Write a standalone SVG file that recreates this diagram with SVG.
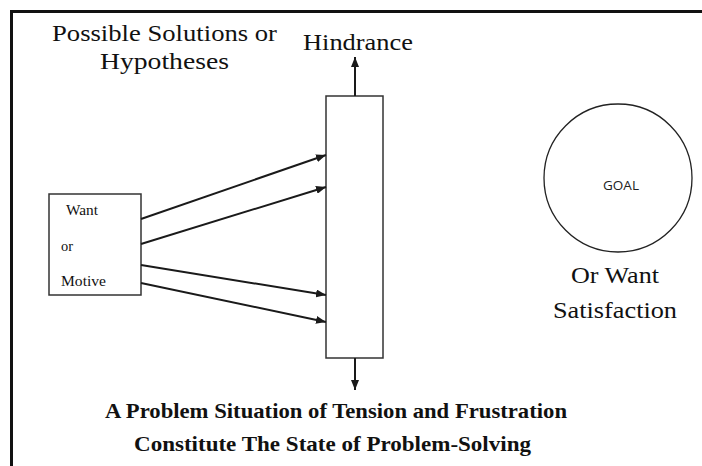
<svg xmlns="http://www.w3.org/2000/svg" width="702" height="466" viewBox="0 0 702 466">
<defs>
<marker id="ah" markerWidth="10" markerHeight="8" refX="10" refY="4" orient="auto" markerUnits="userSpaceOnUse">
<path d="M0,0 L10,4 L0,8 Z" fill="#1a1a1a"/>
</marker>
<style>
.ln{stroke:#1a1a1a;stroke-width:2;fill:none}
.box{stroke:#333;stroke-width:1.5;fill:#fff}
.sf{font-family:'Liberation Serif','Times New Roman','DejaVu Serif',serif;fill:#111}
</style>
</defs>
<rect width="702" height="466" fill="#fff"/>
<g id="frame">
<line x1="10" y1="11.5" x2="702" y2="11.5" stroke="#111" stroke-width="3"/>
<line x1="11.5" y1="10" x2="11.5" y2="466" stroke="#111" stroke-width="3"/>
</g>
<g class="sf">
<g id="title-solutions">
<text x="164.5" y="41" font-size="23" text-anchor="middle" textLength="225" lengthAdjust="spacingAndGlyphs">Possible Solutions or</text>
<text x="164.5" y="69" font-size="23" text-anchor="middle" textLength="129" lengthAdjust="spacingAndGlyphs">Hypotheses</text>
</g>
<g id="hindrance-label">
<text x="358" y="50" font-size="23" text-anchor="middle" textLength="110" lengthAdjust="spacingAndGlyphs">Hindrance</text>
</g>
<g id="goal-label">
<text x="615" y="283" font-size="23" text-anchor="middle" textLength="88" lengthAdjust="spacingAndGlyphs">Or Want</text>
<text x="615" y="318" font-size="23" text-anchor="middle" textLength="124" lengthAdjust="spacingAndGlyphs">Satisfaction</text>
</g>
<g id="caption">
<text x="336" y="418" font-size="22" font-weight="bold" text-anchor="middle" textLength="462" lengthAdjust="spacingAndGlyphs">A Problem Situation of Tension and Frustration</text>
<text x="332.5" y="451" font-size="22" font-weight="bold" text-anchor="middle" textLength="397" lengthAdjust="spacingAndGlyphs">Constitute The State of Problem-Solving</text>
</g>
</g>
<g id="hindrance">
<rect class="box" x="326" y="96" width="57" height="262"/>
</g>
<g id="want">
<rect class="box" x="49" y="194" width="92" height="101"/>
<g class="sf" font-size="14">
<text x="66" y="215" textLength="32" lengthAdjust="spacingAndGlyphs">Want</text>
<text x="61" y="251" textLength="12" lengthAdjust="spacingAndGlyphs">or</text>
<text x="61" y="286" textLength="45" lengthAdjust="spacingAndGlyphs">Motive</text>
</g>
</g>
<g id="goal">
<circle cx="618" cy="178" r="74" fill="none" stroke="#222" stroke-width="1.3"/>
<text x="621" y="190" font-size="12" text-anchor="middle" font-family="'Open Sans','DejaVu Sans',sans-serif" fill="#222" textLength="36" lengthAdjust="spacingAndGlyphs">GOAL</text>
</g>
<g id="connectors">
<line class="ln" x1="141" y1="219" x2="326" y2="155" marker-end="url(#ah)"/>
<line class="ln" x1="141" y1="244" x2="326" y2="187" marker-end="url(#ah)"/>
<line class="ln" x1="141" y1="265" x2="326" y2="295" stroke-width="2.6" marker-end="url(#ah)"/>
<line class="ln" x1="141" y1="283" x2="326" y2="322" marker-end="url(#ah)"/>
<line class="ln" x1="355" y1="96" x2="355" y2="57" marker-end="url(#ah)"/>
<line class="ln" x1="355" y1="358" x2="355" y2="390" marker-end="url(#ah)"/>
</g>
</svg>
